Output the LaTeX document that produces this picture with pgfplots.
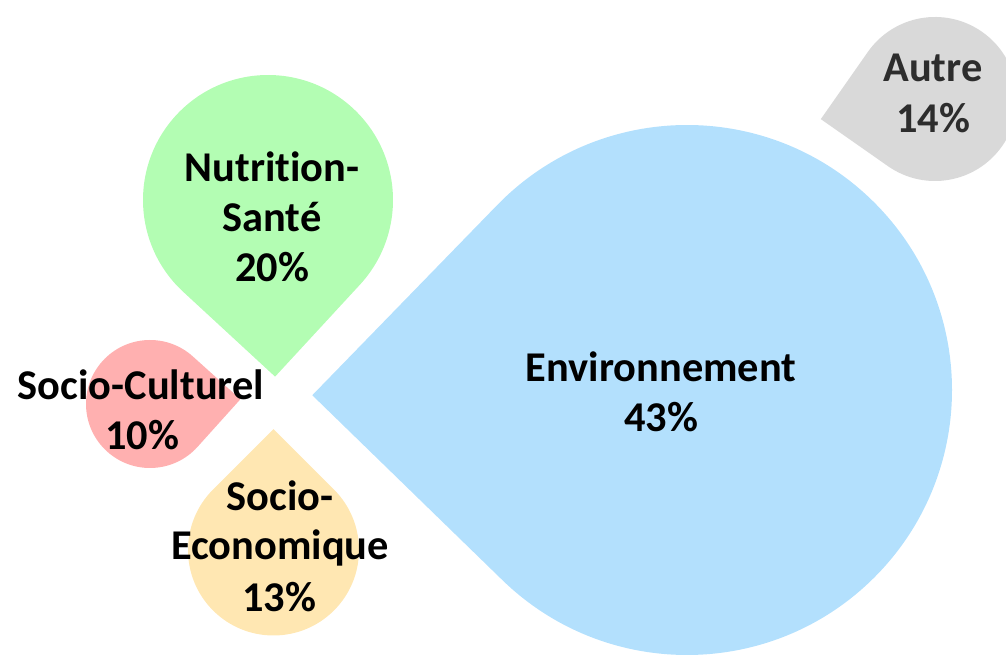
\documentclass[border=0pt]{standalone}
\usepackage{pgfplots}
\pgfplotsset{compat=1.18}
\usepackage{fontspec}
\setmainfont{Carlito}[RawFeature={-liga}]
\definecolor{envblue}{RGB}{179,224,253}
\definecolor{nutgreen}{RGB}{179,253,179}
\definecolor{culpink}{RGB}{255,176,176}
\definecolor{ecoyellow}{RGB}{255,231,178}
\definecolor{autgray}{RGB}{217,217,217}
\definecolor{auttext}{RGB}{45,45,45}
\tikzset{lbl/.style={anchor=base, font=\fontsize{21.2}{25}\selectfont\bfseries, inner sep=0pt}}
% teardrop mark: circle of radius \pgfplotmarksize with a right-angle tip pointing to 0 degrees
\pgfdeclareplotmark{teardrop}{%
  \pgfpathmoveto{\pgfqpoint{1.41421\pgfplotmarksize}{0pt}}%
  \pgfpathlineto{\pgfqpointpolar{45}{\pgfplotmarksize}}%
  \pgfpatharc{45}{315}{\pgfplotmarksize}%
  \pgfpathclose
  \pgfusepath{fill}%
}
\begin{document}
\begin{tikzpicture}
\begin{axis}[
  x=0.5pt, y=0.5pt, y dir=reverse,
  xmin=0, xmax=1006, ymin=0, ymax=656,
  hide axis, scale only axis,
  clip=true, clip marker paths=true,
]
% Environnement 43%
\addplot[only marks, mark=teardrop, color=envblue, mark size=132.5pt, mark options={rotate=180.8}] coordinates {(687,390)};
% Autre 14%
\addplot[only marks, mark=teardrop, color=autgray, mark size=41pt, mark options={rotate=190}] coordinates {(935,99)};
% Nutrition-Santé 20%
\addplot[only marks, mark=teardrop, color=nutgreen, mark size=62.5pt, mark options={rotate=272.3}] coordinates {(268,200)};
% Socio-Culturel 10%
\addplot[only marks, mark=teardrop, color=culpink, mark size=32pt, mark options={rotate=3}] coordinates {(150,404)};
% Socio-Economique 13%
\addplot[only marks, mark=teardrop, color=ecoyellow, mark size=42.75pt, mark options={rotate=90}] coordinates {(273.5,550)};

\node[lbl] at (axis cs:661,382) {Environnement};
\node[lbl] at (axis cs:661,432) {43\%};
\node[lbl, text=auttext] at (axis cs:933,82) {Autre};
\node[lbl, text=auttext] at (axis cs:933,133) {14\%};
\node[lbl] at (axis cs:272,182) {Nutrition-};
\node[lbl] at (axis cs:272,232) {Santé};
\node[lbl] at (axis cs:272,282) {20\%};
\node[lbl] at (axis cs:141,400) {Socio-Culturel};
\node[lbl] at (axis cs:142,450) {10\%};
\node[lbl] at (axis cs:280,511) {Socio-};
\node[lbl] at (axis cs:280,560) {Economique};
\node[lbl] at (axis cs:279,612) {13\%};
\end{axis}
\pgfresetboundingbox
\path (current axis.south west) rectangle (current axis.north east);
\end{tikzpicture}
\end{document}
